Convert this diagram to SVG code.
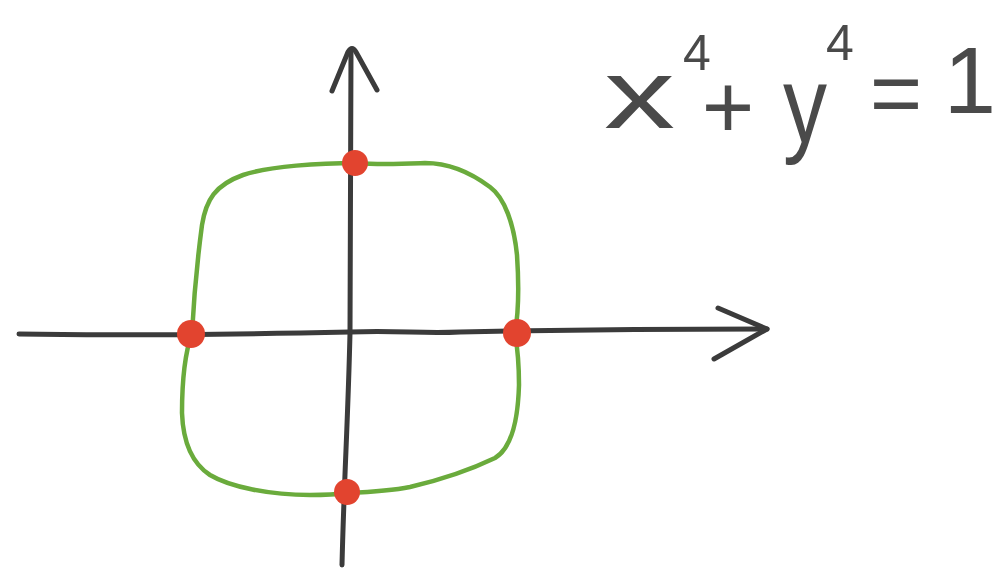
<svg xmlns="http://www.w3.org/2000/svg" width="999" height="569" viewBox="0 0 999 569">
<style>
.ax{fill:none;stroke:#3b3b3b;stroke-width:5;stroke-linecap:round;stroke-linejoin:round}
.curve{fill:none;stroke:#6aab3c;stroke-width:4.5;stroke-linecap:round;stroke-linejoin:round}
.pt{fill:#e2442f}
.t{font-family:"Liberation Sans","DejaVu Sans",sans-serif;fill:#4a4a4a}
</style>
<rect width="999" height="569" fill="#ffffff"/>
<g id="connectors">
<path id="y-axis" class="ax" d="M342,565 C344,480 348,420 350,333 C351,250 350,160 351,50"/>
<path id="y-arrow" class="ax" d="M332,91 L348,52 Q352,45 356,52 L377,90"/>
<path id="x-axis" class="ax" d="M19,334 C120,336 250,334 350,332 C400,330 420,334 460,332 C560,330 680,329 767,329"/>
<path id="x-arrow" class="ax" d="M718,308 L767,329 L714,359"/>
</g>
<g id="curve">
<path class="curve" d="M357,163 C320,163 270,166 243,175 C215,185 206,200 202,225 C198,255 194,295 192,333 C186,350 182,375 182,413 C183,440 190,462 210,475 C230,487 270,495 310,495 C330,495 340,494 348,493 C370,492 390,491 410,487 C440,480 470,470 495,458 C512,448 518,420 519,385 C519,360 517,345 515,333 C519,310 519,285 517,255 C514,225 505,198 490,187 C470,172 450,163 425,163 C400,164 380,165 357,163 Z"/>
</g>
<g id="points">
<circle id="p-top" class="pt" cx="355" cy="163" r="13"/>
<circle id="p-left" class="pt" cx="191" cy="334" r="14"/>
<circle id="p-right" class="pt" cx="517" cy="333" r="14"/>
<circle id="p-bottom" class="pt" cx="347" cy="492" r="13"/>
</g>
<g id="formula">
<text class="t" font-size="98" transform="translate(604,128) scale(1.45,1)">x</text>
<text class="t" font-size="50" x="683" y="70">4</text>
<text class="t" font-size="90" x="728" y="138" text-anchor="middle">+</text>
<text class="t" font-size="110" transform="translate(805,142) scale(0.8,1)" text-anchor="middle">y</text>
<text class="t" font-size="50" x="826" y="60">4</text>
<text class="t" font-size="90" x="896" y="124" text-anchor="middle">=</text>
<text class="t" font-size="94" x="970" y="113" text-anchor="middle">1</text>
</g>
</svg>
